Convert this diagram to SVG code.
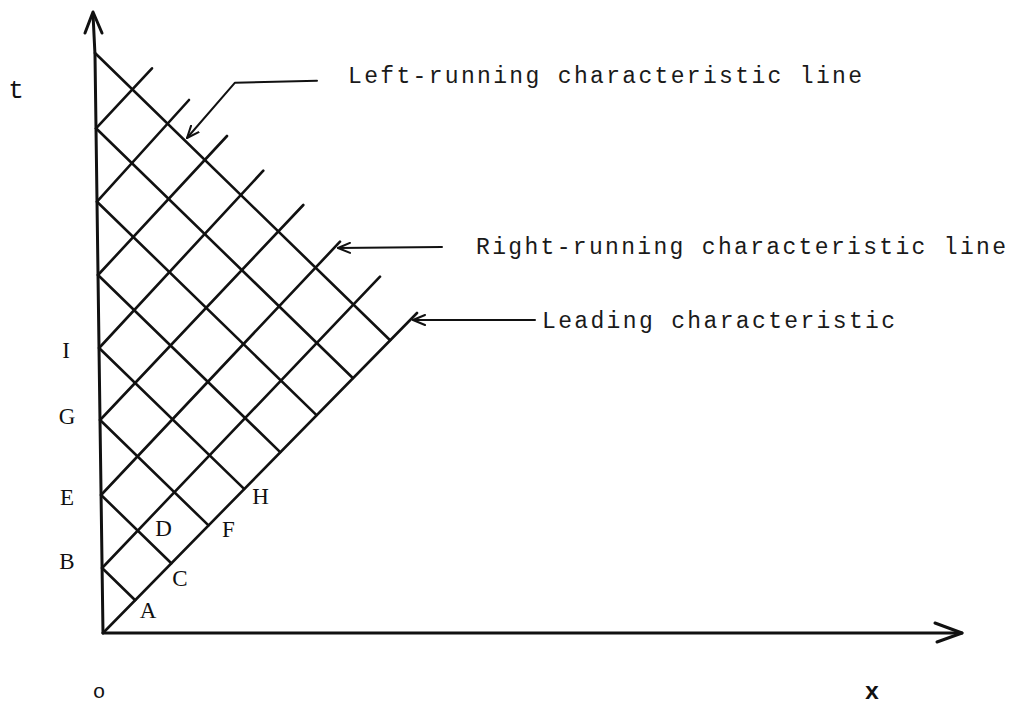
<svg xmlns="http://www.w3.org/2000/svg" width="1013" height="707" viewBox="0 0 1013 707">
  <defs>
    <marker id="openhead" markerUnits="userSpaceOnUse" viewBox="0 0 14 12" refX="13" refY="6" markerWidth="14" markerHeight="12" orient="auto">
      <path d="M1,1 L13,6 L1,11" fill="none" stroke="#111" stroke-width="2" stroke-linecap="round" stroke-linejoin="round"/>
    </marker>
  </defs>
  <style>
    .axis { fill: none; stroke: #111; stroke-width: 3; stroke-linecap: round; stroke-linejoin: round; }
    .grid { fill: none; stroke: #111; stroke-width: 2.6; stroke-linecap: round; }
    .leader { fill: none; stroke: #111; stroke-width: 2; stroke-linecap: round; stroke-linejoin: round; }
    .pt { font-family: "Liberation Serif", "Times New Roman", serif; font-size: 23px; fill: #111; text-anchor: middle; }
    .note { font-family: "Liberation Mono", "Courier New", monospace; font-size: 23px; fill: #1a1a1a; }
    .ax { font-family: "Liberation Mono", "Courier New", monospace; fill: #111; text-anchor: middle; }
  </style>
  <rect x="0" y="0" width="1013" height="707" fill="#ffffff"/>

  <g id="axes">
    <path class="axis" d="M103,633 L100,420 L95,55 L93,14"/>
    <polyline class="axis" points="85,33 93,12 102,33"/>
    <path class="axis" d="M103,633 L962,633"/>
    <polyline class="axis" points="935,623 962,633 937,642"/>
  </g>

  <g id="connectors">
    <g id="left-running">
      <line class="grid" x1="102.1" y1="568" x2="135.2" y2="600.2"/>
      <line class="grid" x1="101.1" y1="495" x2="171.3" y2="563.3"/>
      <line class="grid" x1="100.1" y1="420" x2="208.5" y2="525.4"/>
      <line class="grid" x1="99.1" y1="348" x2="244.1" y2="488.9"/>
      <line class="grid" x1="98" y1="275" x2="280.2" y2="452.1"/>
      <line class="grid" x1="97" y1="201.7" x2="316.5" y2="415.1"/>
      <line class="grid" x1="96" y1="128.3" x2="352.8" y2="378"/>
      <line class="grid" x1="95" y1="53" x2="390.1" y2="340.2"/>
    </g>
    <g id="right-running">
      <line class="grid" x1="103" y1="633" x2="417" y2="313"/>
      <line class="grid" x1="102.1" y1="568" x2="380" y2="276.7"/>
      <line class="grid" x1="101.1" y1="495" x2="340" y2="241.7"/>
      <line class="grid" x1="100.1" y1="420" x2="303.3" y2="205"/>
      <line class="grid" x1="99.1" y1="348" x2="263.3" y2="170.7"/>
      <line class="grid" x1="98" y1="275" x2="227" y2="136"/>
      <line class="grid" x1="97" y1="201.7" x2="189" y2="100"/>
      <line class="grid" x1="96" y1="128.3" x2="152" y2="68.3"/>
    </g>
    <g id="leaders">
      <polyline class="leader" points="317,80.7 235,82.7 187,138" marker-end="url(#openhead)"/>
      <line class="leader" x1="442" y1="247" x2="338" y2="248" marker-end="url(#openhead)"/>
      <line class="leader" x1="535" y1="320" x2="413" y2="320" marker-end="url(#openhead)"/>
    </g>
  </g>

  <g id="node-left-label"><text class="note" x="348" y="83" textLength="514" lengthAdjust="spacing">Left-running characteristic line</text></g>
  <g id="node-right-label"><text class="note" x="476" y="254" textLength="530" lengthAdjust="spacing">Right-running characteristic line</text></g>
  <g id="node-leading-label"><text class="note" x="542" y="328" textLength="353" lengthAdjust="spacing">Leading characteristic</text></g>

  <g id="node-t"><text class="ax" x="16" y="98" font-size="26">t</text></g>
  <g id="node-o"><text class="ax" x="99" y="698" font-size="21">o</text></g>
  <g id="node-x"><text class="ax" x="872" y="699" font-size="24" font-weight="bold">x</text></g>

  <g id="node-I"><text class="pt" x="66" y="358">I</text></g>
  <g id="node-G"><text class="pt" x="67" y="424">G</text></g>
  <g id="node-E"><text class="pt" x="67" y="505">E</text></g>
  <g id="node-B"><text class="pt" x="67" y="569">B</text></g>
  <g id="node-A"><text class="pt" x="148" y="618">A</text></g>
  <g id="node-C"><text class="pt" x="180" y="586">C</text></g>
  <g id="node-D"><text class="pt" x="163.5" y="536">D</text></g>
  <g id="node-F"><text class="pt" x="228.5" y="537">F</text></g>
  <g id="node-H"><text class="pt" x="260.5" y="504">H</text></g>
</svg>
